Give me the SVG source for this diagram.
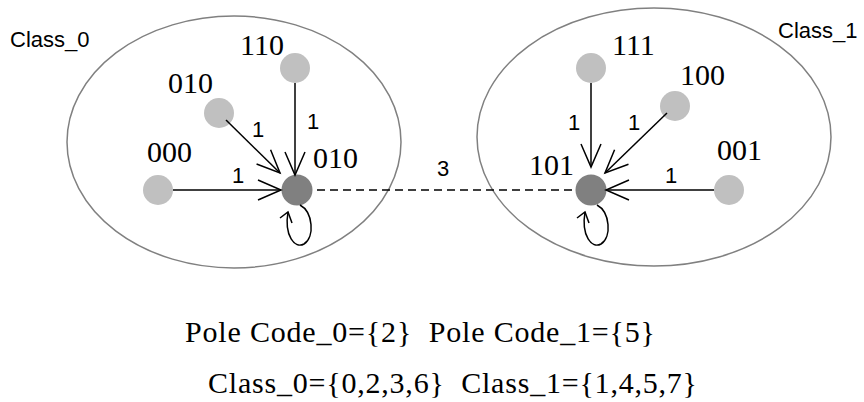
<svg xmlns="http://www.w3.org/2000/svg" width="864" height="402" viewBox="0 0 864 402">
<style>
.ell{fill:none;stroke:#808080;stroke-width:1.5}
.lt{fill:#c0c0c0}
.dk{fill:#808080}
.num{font-family:"Liberation Serif","Times New Roman",serif;font-size:30px;fill:#000}
.w{font-family:"Liberation Sans",Arial,sans-serif;font-size:22px;fill:#000}
.e{fill:none;stroke:#000;stroke-width:1.5}
.bt{font-family:"Liberation Serif","Times New Roman",serif;font-size:30px;fill:#000}
</style>
<defs>
<marker id="ah" markerUnits="userSpaceOnUse" viewBox="-26 -13 30 26" refX="0" refY="0" markerWidth="30" markerHeight="26" orient="auto" overflow="visible">
<path d="M -23,-10 L 0,0 L -23,10" fill="none" stroke="#000" stroke-width="1.5"/>
</marker>
</defs>
<g id="class0">
<ellipse class="ell" cx="234" cy="142" rx="167" ry="126"/>
<text class="w" x="10" y="47">Class_0</text>
</g>
<g id="class1">
<ellipse class="ell" cx="654" cy="137" rx="177" ry="129"/>
<text class="w" x="778" y="38">Class_1</text>
</g>
<g id="n000"><circle class="lt" cx="158" cy="190" r="15"/><text class="num" x="147" y="162">000</text></g>
<g id="n010a"><circle class="lt" cx="219" cy="113" r="15"/><text class="num" x="168" y="93">010</text></g>
<g id="n110"><circle class="lt" cx="295" cy="68" r="15"/><text class="num" x="240" y="55">110</text></g>
<g id="n010"><circle class="dk" cx="297" cy="190" r="15.5"/><text class="num" x="313" y="168">010</text></g>
<g id="n111"><circle class="lt" cx="591" cy="68" r="15"/><text class="num" x="612" y="55">111</text></g>
<g id="n100"><circle class="lt" cx="675" cy="106" r="15"/><text class="num" x="680" y="85">100</text></g>
<g id="n001"><circle class="lt" cx="729" cy="190" r="15"/><text class="num" x="717" y="160">001</text></g>
<g id="n101"><circle class="dk" cx="591" cy="190" r="15.5"/><text class="num" x="529" y="175">101</text></g>
<g id="connectors">
<line class="e" x1="173" y1="190" x2="281" y2="190" marker-end="url(#ah)"/>
<line class="e" x1="226" y1="120" x2="280" y2="173" marker-end="url(#ah)"/>
<line class="e" x1="295" y1="83" x2="295" y2="175" marker-end="url(#ah)"/>
<line class="e" x1="591" y1="83" x2="591" y2="167" marker-end="url(#ah)"/>
<line class="e" x1="667" y1="113" x2="605" y2="173" marker-end="url(#ah)"/>
<line class="e" x1="714" y1="190" x2="606" y2="190" marker-end="url(#ah)"/>
<line class="e" x1="317" y1="190" x2="572" y2="190" stroke-dasharray="8,5"/>
<g id="loop0">
<path class="e" d="M 300,205 C 313,212 315,237 304,244 C 295,249 284,236 288,212"/>
<path class="e" d="M 280,218 L 288,212 L 292,223"/>
</g>
<g id="loop1" transform="translate(297,0)">
<path class="e" d="M 300,205 C 313,212 315,237 304,244 C 295,249 284,236 288,212"/>
<path class="e" d="M 280,218 L 288,212 L 292,223"/>
</g>
<text class="w" x="258" y="137" text-anchor="middle">1</text>
<text class="w" x="313" y="129" text-anchor="middle">1</text>
<text class="w" x="238" y="183" text-anchor="middle">1</text>
<text class="w" x="574" y="130" text-anchor="middle">1</text>
<text class="w" x="634" y="130" text-anchor="middle">1</text>
<text class="w" x="671" y="183" text-anchor="middle">1</text>
<text class="w" x="443" y="176" text-anchor="middle">3</text>
</g>
<text class="bt" x="185" y="342" textLength="470" xml:space="preserve">Pole Code_0={2}  Pole Code_1={5}</text>
<text class="bt" x="208" y="393" textLength="489" xml:space="preserve">Class_0={0,2,3,6}  Class_1={1,4,5,7}</text>
</svg>
